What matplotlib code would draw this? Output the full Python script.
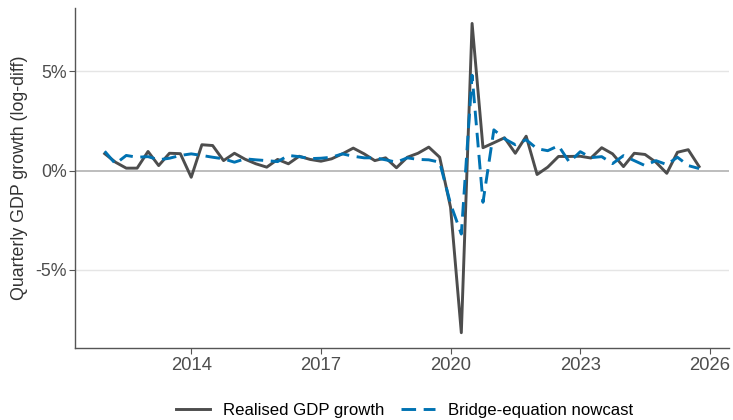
import numpy as np
import pandas as pd
import matplotlib
matplotlib.use("Agg")
import matplotlib.pyplot as plt
import matplotlib.dates as mdates
from matplotlib.ticker import FixedLocator, FuncFormatter

plt.rcParams['font.family'] = ['Liberation Sans', 'DejaVu Sans']

# quarterly growth, 2012Q1 - 2025Q4 (percent, log-diff)
quarters = pd.date_range("2012-01-01", periods=56, freq="QS")
realised = [0.85, 0.42, 0.12, 0.12, 0.96, 0.25, 0.87, 0.85,
            -0.34, 1.30, 1.26, 0.50, 0.87, 0.57, 0.34, 0.17,
            0.56, 0.34, 0.72, 0.56, 0.47, 0.59, 0.84, 1.13,
            0.84, 0.50, 0.64, 0.14, 0.67, 0.87, 1.18, 0.67,
            -1.85, -8.17, 7.41, 1.15, 1.40, 1.65, 0.87, 1.73,
            -0.20, 0.17, 0.71, 0.71, 0.72, 0.63, 1.15, 0.84,
            0.20, 0.87, 0.81, 0.42, -0.14, 0.92, 1.05, 0.20]
nowcast = [0.97, 0.34, 0.76, 0.67, 0.70, 0.54, 0.62, 0.76,
           0.84, 0.76, 0.67, 0.59, 0.42, 0.59, 0.54, 0.50,
           0.45, 0.76, 0.70, 0.60, 0.62, 0.67, 0.84, 0.72,
           0.64, 0.64, 0.54, 0.42, 0.64, 0.56, 0.54, 0.42,
           -1.68, -3.20, 4.80, -1.60, 2.05, 1.60, 1.30, 1.55,
           1.10, 1.00, 1.25, 0.42, 0.95, 0.65, 0.70, 0.35,
           0.75, 0.50, 0.25, 0.50, 0.30, 0.67, 0.25, 0.10]
year_ticks = [2014, 2017, 2020, 2023, 2026]
pct_ticks = [-5, 0, 5]

grey = "#4D4D4D"
blue = "#0072B2"

fig = plt.figure(figsize=(7.33, 4.2), dpi=100)
ax = fig.add_axes([0.1023, 0.171, 0.892, 0.81])

ax.axhline(0, color="#BDBDBD", lw=1.4, zorder=1)
for t in [-5, 5]:
    ax.axhline(t, color="#E5E5E5", lw=1.0, zorder=0)

ax.plot(quarters, realised, color=grey, lw=2.1, label="Realised GDP growth", zorder=3)
ax.plot(quarters, nowcast, color=blue, lw=2.1, dashes=(5, 2.6),
        label="Bridge-equation nowcast", zorder=4)

# 5% expansion on both axes
x0, x1 = mdates.date2num(quarters[0]), mdates.date2num(quarters[-1])
pad = (x1 - x0) * 0.05
ax.set_xlim(x0 - pad, x1 + pad)
allv = realised + nowcast
lo, hi = min(allv), max(allv)
ax.set_ylim(lo - 0.05 * (hi - lo), hi + 0.05 * (hi - lo))

ax.xaxis.set_major_locator(FixedLocator([mdates.date2num(pd.Timestamp(f"{y}-01-01")) for y in year_ticks]))
ax.xaxis.set_major_formatter(FuncFormatter(lambda v, p: str(mdates.num2date(v).year)))
ax.yaxis.set_major_locator(FixedLocator(pct_ticks))
ax.yaxis.set_major_formatter(FuncFormatter(lambda v, p: f"{v:.0f}%"))

for s in ["top", "right"]:
    ax.spines[s].set_visible(False)
for s in ["left", "bottom"]:
    ax.spines[s].set_color("#555555")
    ax.spines[s].set_linewidth(1.0)
ax.tick_params(axis="x", length=4, width=0.8, color="#555555", labelsize=13.3, labelcolor=grey, pad=2)
ax.tick_params(axis="y", length=4, width=0.8, color="#555555", labelsize=12.8, labelcolor=grey, pad=2)

ax.set_ylabel("Quarterly GDP growth (log-diff)", fontsize=12.8, color="#333333", labelpad=5)

fig.legend(loc="center", bbox_to_anchor=(0.552, 0.022), ncol=2, frameon=False,
           fontsize=12.1, handlelength=2.0, columnspacing=1.0, handletextpad=0.8)

fig.savefig("out.png", dpi=100)
